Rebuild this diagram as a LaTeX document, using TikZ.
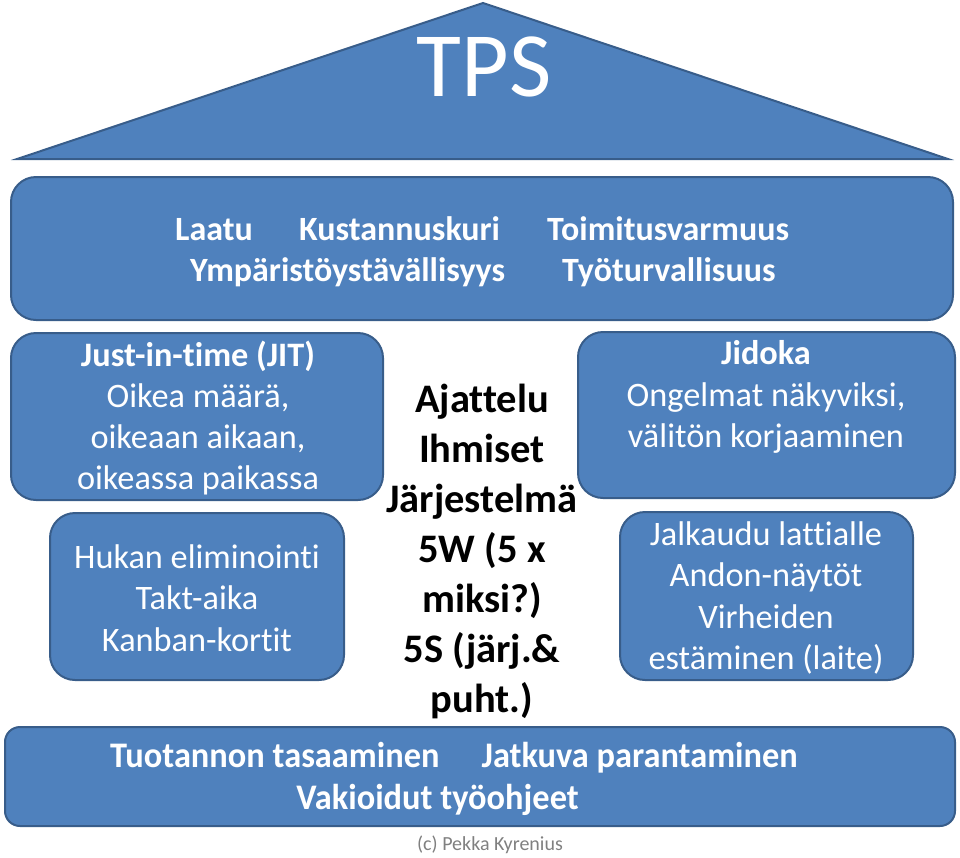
\documentclass[tikz,border=0pt]{standalone}
\usepackage{fontspec}
\setmainfont{Carlito}[Ligatures={NoCommon}]
\newfontfamily\condfont{Carlito}[FakeStretch=0.955, Ligatures={NoCommon}]
\definecolor{fillblue}{HTML}{4F81BD}
\definecolor{edgeblue}{HTML}{385D8A}
\definecolor{copygray}{HTML}{808080}
\begin{document}
\begin{tikzpicture}[x=1pt,y=-1pt,
  shapebox/.style={fill=fillblue, draw=edgeblue, line width=2pt, rounded corners=25pt, inner sep=0pt},
  wtext/.style={text=white, inner sep=0pt, font=\fontsize{34.3}{41.3}\selectfont, align=center},
  wbold/.style={text=white, inner sep=0pt, font=\fontsize{34}{41}\selectfont\bfseries},
  ctext/.style={text=black, inner sep=0pt, font=\fontsize{40.5}{50}\selectfont\bfseries, align=center},
  btext/.style={text=white, inner sep=0pt, font=\fontsize{36}{42}\selectfont\condfont\bfseries}
]
\useasboundingbox (0,0) rectangle (960,857);

% roof
\draw[fill=fillblue, draw=edgeblue, line width=2pt, line join=miter] (483,3) -- (948,159) -- (17,159) -- cycle;
\node[text=white, inner sep=0pt, font=\fontsize{92}{92}\selectfont, anchor=base] (tps) at (484,96) {TPS};

% goals band
\node[shapebox, minimum width=942pt, minimum height=143pt] (goals) at (482,248.5) {};
\node[wbold, anchor=base west] (laatu) at (175,240) {Laatu};
\node[wbold, anchor=base west] (kust) at (299,240) {Kustannuskuri};
\node[wbold, anchor=base west] (toim) at (547,240) {Toimitusvarmuus};
\node[wbold, anchor=base west] (ymp) at (190,281) {Ympäristöystävällisyys};
\node[wbold, anchor=base west] (tyot) at (562,281) {Työturvallisuus};

% left pillar
\node[shapebox, minimum width=372pt, minimum height=167pt] (jit) at (197,416.5) {};
\node[wtext] (jittxt) at (198,418) {\textbf{Just-in-time (JIT)}\\Oikea määrä,\\oikeaan aikaan,\\oikeassa paikassa};
\node[shapebox, minimum width=294pt, minimum height=167pt] (hukka) at (197,596.5) {};
\node[wtext] (hukkatxt) at (197,598) {Hukan eliminointi\\Takt-aika\\Kanban-kortit};

% centre
\node[ctext] (centre) at (482,551) {Ajattelu\\Ihmiset\\Järjestelmä\\5W (5 x\\miksi?)\\5S (järj.\&\\puht.)};

% right pillar
\node[shapebox, minimum width=377pt, minimum height=166pt] (jidoka) at (766.5,415) {};
\node[wtext] (jidokatxt) at (766,397) {\textbf{Jidoka}\\Ongelmat näkyviksi,\\välitön korjaaminen};
\node[shapebox, minimum width=293pt, minimum height=168pt] (andon) at (766.5,596) {};
\node[wtext] (andontxt) at (766,598) {Jalkaudu lattialle\\Andon-näytöt\\Virheiden\\estäminen (laite)};

% base band
\node[shapebox, rounded corners=15pt, minimum width=950pt, minimum height=99pt] (base) at (480,776.5) {};
\node[btext, anchor=base west] (tasa) at (110,767) {Tuotannon tasaaminen};
\node[btext, anchor=base east] (jatk) at (798,767) {Jatkuva parantaminen};
\node[btext, anchor=base] (vaki) at (437.5,809) {Vakioidut työohjeet};

% copyright
\node[text=copygray, inner sep=0pt, font=\fontsize{20}{24}\selectfont, anchor=base] (copy) at (490,850) {(c) Pekka Kyrenius};
\end{tikzpicture}
\end{document}
